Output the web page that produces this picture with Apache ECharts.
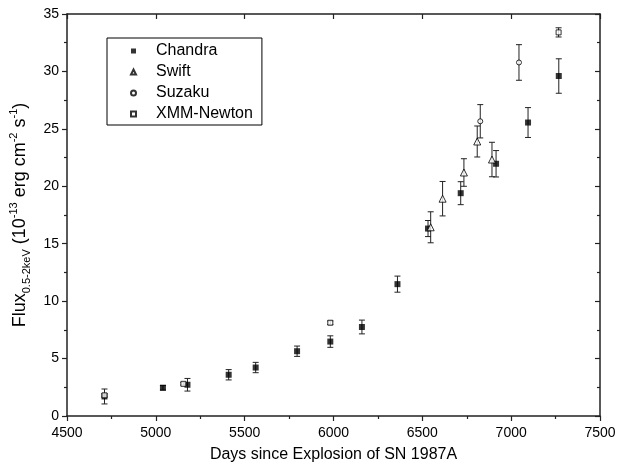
<!DOCTYPE html>
<html>
<head>
<meta charset="utf-8">
<script src="https://cdn.jsdelivr.net/npm/echarts@6/dist/echarts.min.js"></script>
<style>html,body{margin:0;padding:0;background:#fff;}#c{width:623px;height:468px;}</style>
</head>
<body>
<div id="c"></div>
<script>
// ---- data ----
const chandraX = [4711, 5040, 5178, 5410, 5562, 5795, 5982, 6160, 6360, 6532, 6716, 6915, 7095, 7268];
const chandraY = [1.7, 2.46, 2.72, 3.59, 4.22, 5.64, 6.48, 7.75, 11.48, 16.32, 19.4, 21.96, 25.55, 29.6];
const chandraErr = [0.65, 0.2, 0.55, 0.45, 0.45, 0.45, 0.5, 0.6, 0.7, 0.7, 1.0, 1.15, 1.3, 1.5];

const swiftX = [6547, 6614, 6734, 6809, 6892];
const swiftY = [16.43, 18.92, 21.2, 23.9, 22.33];
const swiftErr = [1.35, 1.5, 1.2, 1.35, 1.5];

const suzakuX = [6826, 7044];
const suzakuY = [25.66, 30.78];
const suzakuErr = [1.45, 1.55];

const xmmX = [4711, 5155, 5982, 7267];
const xmmY = [1.8, 2.8, 8.12, 33.4];
const xmmErr = [0.15, 0.1, 0.15, 0.4];

const xTicks = {min: 4500, max: 7500, interval: 500};
const yTicks = {min: 0, max: 35, interval: 5};

// ---- helpers ----
const FONT = 'Arial, "Liberation Sans", sans-serif';
const AXC = '#222';
function pts(xs, ys) { return xs.map((x, i) => [x, ys[i]]); }
function errs(xs, ys, es) { return xs.map((x, i) => [x, ys[i] - es[i], ys[i] + es[i]]); }
function errRender(params, api) {
  const x = api.value(0), lo = api.value(1), hi = api.value(2);
  const a = api.coord([x, hi]), b = api.coord([x, lo]);
  const hw = 3;
  const st = {stroke: '#222', lineWidth: 1, fill: null};
  return {type: 'group', children: [
    {type: 'line', shape: {x1: a[0], y1: a[1], x2: b[0], y2: b[1]}, style: st},
    {type: 'line', shape: {x1: a[0] - hw, y1: a[1], x2: a[0] + hw, y2: a[1]}, style: st},
    {type: 'line', shape: {x1: b[0] - hw, y1: b[1], x2: b[0] + hw, y2: b[1]}, style: st}
  ]};
}
function errSeries(name, xs, ys, es) {
  return {type: 'custom', name: name, renderItem: errRender, data: errs(xs, ys, es),
    encode: {x: 0, y: [1, 2]}, silent: true, z: 2};
}
const openStyle = {color: '#fff', borderColor: '#000', borderWidth: 1};
const plain = v => String(v);

const chart = echarts.init(document.getElementById('c'), null, {renderer: 'canvas'});
chart.setOption({
  animation: false,
  backgroundColor: '#fff',
  textStyle: {fontFamily: FONT, color: '#000'},
  grid: {left: 67, right: 23, top: 14, bottom: 50},
  legend: {
    data: ['Chandra', 'Swift', 'Suzaku', 'XMM-Newton'],
    orient: 'vertical', left: 107, top: 38,
    itemWidth: 5, itemHeight: 5, itemGap: 5,
    borderColor: '#000', borderWidth: 1, borderRadius: 0,
    padding: [5, 9, 3, 23],
    textStyle: {fontFamily: FONT, fontSize: 16, color: '#000', lineHeight: 16, padding: [0, 0, 0, 15]}
  },
  xAxis: [{
    type: 'value', position: 'bottom', min: xTicks.min, max: xTicks.max, interval: xTicks.interval,
    name: 'Days since Explosion of SN 1987A', nameLocation: 'middle', nameGap: 31,
    nameTextStyle: {fontFamily: FONT, fontSize: 16, color: '#000'},
    axisLine: {show: true, onZero: false, lineStyle: {color: AXC, width: 1.5}},
    axisTick: {show: true, inside: false, length: 5, lineStyle: {color: AXC, width: 1.2}},
    minorTick: {show: true, splitNumber: 2, length: 3, lineStyle: {color: AXC, width: 1.2}},
    axisLabel: {fontFamily: FONT, fontSize: 14, color: '#000', margin: 10, formatter: plain},
    splitLine: {show: false}
  }, {
    type: 'value', position: 'top', min: xTicks.min, max: xTicks.max, interval: xTicks.interval,
    axisLine: {show: true, onZero: false, lineStyle: {color: AXC, width: 1.5}},
    axisTick: {show: true, inside: true, length: 5, lineStyle: {color: AXC, width: 1.2}},
    minorTick: {show: false},
    axisLabel: {show: false}, splitLine: {show: false}
  }],
  yAxis: [{
    type: 'value', position: 'left', min: yTicks.min, max: yTicks.max, interval: yTicks.interval,
    name: '{a|Flux}{sub|0.5-2keV}{a| (10}{sup|-13}{a| erg cm}{sup|-2}{a| s}{sup|-1}{a|)}',
    nameLocation: 'middle', nameRotate: 90, nameGap: 32,
    nameTextStyle: {
      fontFamily: FONT, color: '#000',
      rich: {
        a: {fontFamily: FONT, fontSize: 18, color: '#000', verticalAlign: 'middle'},
        sub: {fontFamily: FONT, fontSize: 11, color: '#000', verticalAlign: 'bottom', padding: [13, 0, 0, 0]},
        sup: {fontFamily: FONT, fontSize: 11, color: '#000', verticalAlign: 'top', padding: [0, 0, 13, 0]}
      }
    },
    axisLine: {show: true, onZero: false, lineStyle: {color: AXC, width: 1.5}},
    axisTick: {show: true, inside: false, length: 5, lineStyle: {color: AXC, width: 1.2}},
    minorTick: {show: true, splitNumber: 2, length: 3, lineStyle: {color: AXC, width: 1.2}},
    axisLabel: {fontFamily: FONT, fontSize: 14, color: '#000', margin: 8, formatter: plain},
    splitLine: {show: false}
  }, {
    type: 'value', position: 'right', min: yTicks.min, max: yTicks.max, interval: yTicks.interval,
    axisLine: {show: true, onZero: false, lineStyle: {color: AXC, width: 1.5}},
    axisTick: {show: true, inside: true, length: 5, lineStyle: {color: AXC, width: 1.2}},
    minorTick: {show: true, splitNumber: 2, length: 3, lineStyle: {color: AXC, width: 1.2}},
    axisLabel: {show: false}, splitLine: {show: false}
  }],
  series: [
    errSeries('errChandra', chandraX, chandraY, chandraErr),
    errSeries('errSwift', swiftX, swiftY, swiftErr),
    errSeries('errSuzaku', suzakuX, suzakuY, suzakuErr),
    errSeries('errXMM', xmmX, xmmY, xmmErr),
    {type: 'scatter', name: 'Chandra', data: pts(chandraX, chandraY), symbol: 'rect', symbolSize: 6,
      itemStyle: {color: '#000'}, z: 3},
    {type: 'scatter', name: 'Swift', data: pts(swiftX, swiftY), symbol: 'triangle', symbolSize: 7,
      itemStyle: openStyle, z: 4},
    {type: 'scatter', name: 'Suzaku', data: pts(suzakuX, suzakuY), symbol: 'circle', symbolSize: 5,
      itemStyle: openStyle, z: 4},
    {type: 'scatter', name: 'XMM-Newton', data: pts(xmmX, xmmY), symbol: 'rect', symbolSize: 5,
      itemStyle: openStyle, z: 4}
  ]
});
</script>
</body>
</html>
